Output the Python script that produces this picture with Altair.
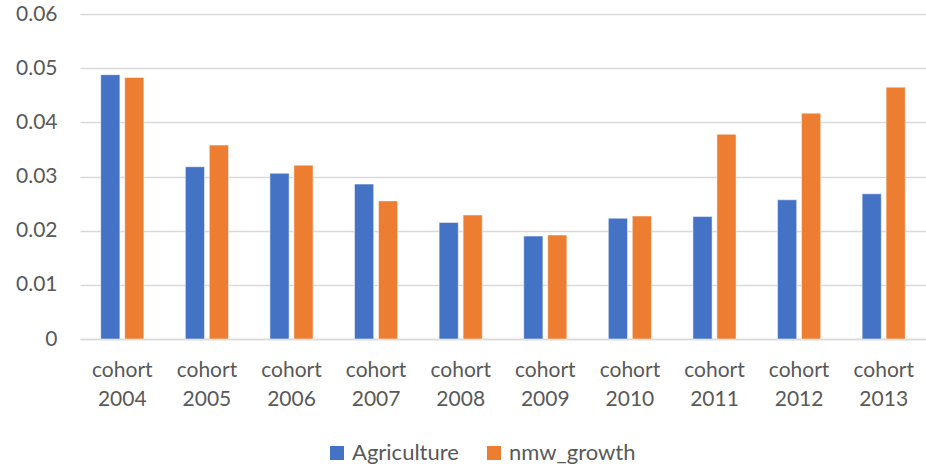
import altair as alt
import pandas as pd

# Cohort categories and the two series plotted against them
cohorts = ["cohort 2004", "cohort 2005", "cohort 2006", "cohort 2007", "cohort 2008",
           "cohort 2009", "cohort 2010", "cohort 2011", "cohort 2012", "cohort 2013"]
agriculture = [0.0488, 0.0318, 0.0306, 0.0286, 0.0215, 0.0190, 0.0223, 0.0226, 0.0257, 0.0268]
nmw_growth = [0.0483, 0.0358, 0.0321, 0.0255, 0.0229, 0.0192, 0.0227, 0.0378, 0.0417, 0.0465]
series_names = ["Agriculture", "nmw_growth"]
series_colors = ["#4472C4", "#ED7D31"]
y_ticks = [0, 0.01, 0.02, 0.03, 0.04, 0.05, 0.06]

rows = []
for c, a, n in zip(cohorts, agriculture, nmw_growth):
    rows.append({"cohort": c, "series": series_names[0], "value": a})
    rows.append({"cohort": c, "series": series_names[1], "value": n})
df = pd.DataFrame(rows)

FONT = "Lato"
TEXT = "#595959"
GRID = "#D9D9D9"

chart = (
    alt.Chart(df)
    .mark_bar(stroke="white", strokeWidth=1, strokeOpacity=0.5)
    .encode(
        x=alt.X(
            "cohort:N",
            sort=cohorts,
            title=None,
            scale=alt.Scale(paddingInner=0.49, paddingOuter=0.245),
            axis=alt.Axis(
                labelAngle=0,
                labelExpr="split(datum.label, ' ')",
                labelFont=FONT,
                labelFontSize=21,
                labelColor=TEXT,
                labelLineHeight=29,
                labelPadding=20,
                labelBaseline="top",
                ticks=False,
                domainColor=GRID,
                domainWidth=1.5,
                grid=False,
            ),
        ),
        xOffset=alt.XOffset(
            "series:N",
            sort=series_names,
            scale=alt.Scale(paddingInner=0.2, paddingOuter=0),
        ),
        y=alt.Y(
            "value:Q",
            title=None,
            scale=alt.Scale(domain=[0, 0.06], nice=False),
            axis=alt.Axis(
                values=y_ticks,
                labelExpr="datum.value == 0 ? '0' : format(datum.value, '.2f')",
                labelFont=FONT,
                labelFontSize=21,
                labelColor=TEXT,
                labelPadding=23,
                ticks=False,
                domain=False,
                gridColor=GRID,
                gridWidth=1.5,
            ),
        ),
        color=alt.Color(
            "series:N",
            sort=series_names,
            scale=alt.Scale(domain=series_names, range=series_colors),
            legend=alt.Legend(
                title=None,
                orient="none",
                direction="horizontal",
                legendX=246,
                legendY=428,
                symbolType="square",
                symbolSize=196,
                symbolStrokeWidth=0,
                labelFont=FONT,
                labelFontSize=22,
                labelColor=TEXT,
                labelOffset=4,
                columnPadding=24,
            ),
        ),
    )
    .properties(
        width=846,
        height=325,
        background="white",
        autosize=alt.AutoSizeParams(type="none"),
        padding={"left": 80, "top": 14, "right": 0, "bottom": 128},
    )
    .configure_view(strokeWidth=0)
)

chart.save("out.html", embed_options={"renderer": "svg", "actions": False})
